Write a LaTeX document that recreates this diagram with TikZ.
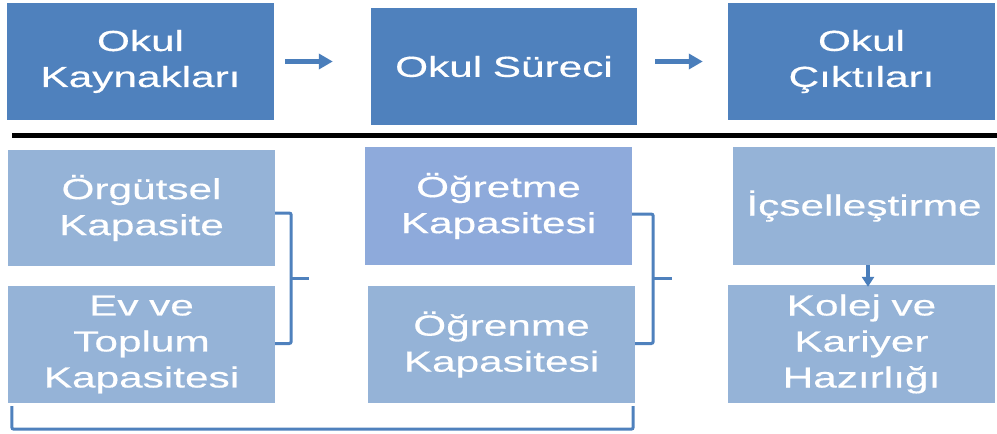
\documentclass[tikz,border=0pt]{standalone}
\usepackage{fontspec}
\setmainfont{Liberation Sans}[FakeStretch=1.46, WordSpace=0.9, FakeBold=0.4]
\usetikzlibrary{arrows.meta, calc}

\definecolor{darkblue}{HTML}{4F81BD}
\definecolor{lightblue}{HTML}{95B3D7}
\definecolor{midblue}{HTML}{8EAADB}
\definecolor{linkblue}{HTML}{4A7EBB}

\tikzset{
  box/.style={rectangle, inner sep=0pt, align=center, text=white,
    font=\fontsize{29}{36}\selectfont},
  topbox/.style={box, fill=darkblue},
  lowbox/.style={box, fill=lightblue},
  flow/.style={draw=linkblue, line width=4.5pt,
    -{Triangle[length=14pt,width=15pt]}},
  brace/.style={draw=darkblue, line width=3pt, rounded corners=2pt}
}

\begin{document}
\begin{tikzpicture}[x=1pt, y=-1pt]
\useasboundingbox (0,0) rectangle (997,434);

% top row: resources, process, outcomes
\node[topbox, minimum width=267pt, minimum height=117pt] (res) at (140.5,61.5) {Okul\\Kaynakları};
\node[topbox, minimum width=266pt, minimum height=117pt] (proc) at (504,66.5) {Okul Süreci};
\node[topbox, minimum width=267pt, minimum height=117pt] (out) at (861.5,61.5) {Okul\\Çıktıları};

\draw[flow, shorten <=11pt, shorten >=38pt] (res.east) -- (res.east -| proc.west);
\draw[flow, shorten <=18pt, shorten >=25pt] (proc.east |- out.west) -- (out.west);

% separating rule
\coordinate (ruleL) at (12,135.5);
\coordinate (ruleR) at (997,135.5);
\draw[black, line width=5pt] (ruleL) -- (ruleR);

% lower row
\node[lowbox, minimum width=267pt, minimum height=116pt] (org) at (141.5,208) {Örgütsel\\Kapasite};
\node[lowbox, minimum width=267pt, minimum height=117pt] (home) at (141.5,344.5) {Ev ve\\Toplum\\Kapasitesi};
\node[box, fill=midblue, minimum width=267pt, minimum height=118pt] (teach) at (498.5,206) {Öğretme\\Kapasitesi};
\node[lowbox, minimum width=267pt, minimum height=117pt] (learn) at (501.5,344.5) {Öğrenme\\Kapasitesi};
\node[lowbox, minimum width=262pt, minimum height=118pt] (intern) at (864,206) {İçselleştirme};
\node[lowbox, minimum width=267pt, minimum height=118pt] (ready) at (861.5,344) {Kolej ve\\Kariyer\\Hazırlığı};

% brackets grouping the boxes
\draw[brace] ([yshift=-5pt]org.east) -- ++(16,0) coordinate (bAtop) |- ([yshift=1pt]home.east) coordinate (bAbot);
\coordinate (bAmid) at ($(bAtop)!0.5!(bAtop |- bAbot)$);
\draw[brace] (bAmid) -- ++(18,0);
\draw[brace] ([yshift=-8pt]teach.east) -- ++(21,0) coordinate (bBtop) |- ([yshift=1pt]learn.east) coordinate (bBbot);
\coordinate (bBmid) at ($(bBtop)!0.5!(bBtop |- bBbot)$);
\draw[brace] (bBmid) -- ++(19,0);
\draw[brace] ([xshift=4pt,yshift=-3pt]home.south west) -- ++(0,23) -| ([xshift=-2pt,yshift=-3pt]learn.south east);

% internalisation leads to readiness
\draw[flow, line width=3.5pt, -{Triangle[length=10pt,width=12pt]}, shorten >=-2pt] ([xshift=4pt]intern.south) -- ([xshift=4pt]intern.south |- ready.north);
\end{tikzpicture}
\end{document}
